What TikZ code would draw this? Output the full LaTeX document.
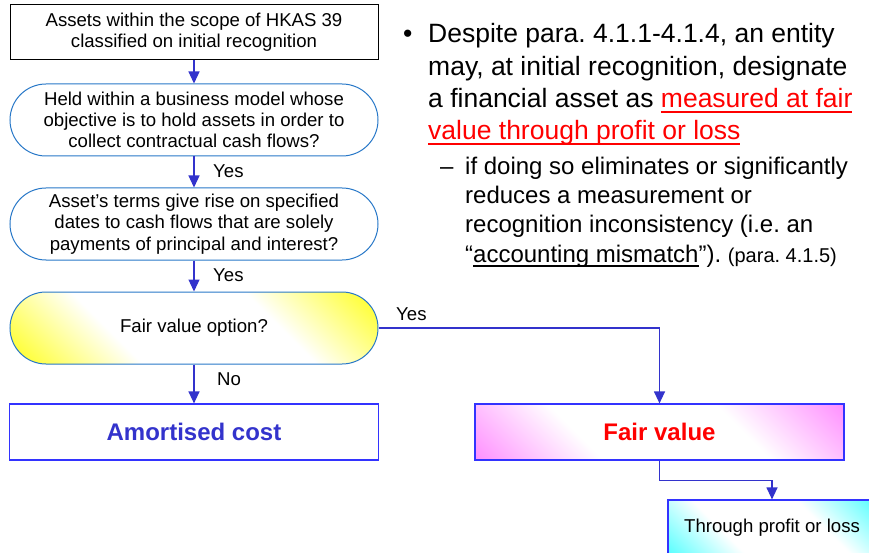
\documentclass[tikz,border=0pt]{standalone}
\usepackage{fontspec}
\setmainfont{Liberation Sans}
\frenchspacing
\newsavebox{\myulbox}
\newcommand{\myul}[1]{\sbox{\myulbox}{#1}\rlap{\rule[-5pt]{\wd\myulbox}{1.8pt}}\usebox{\myulbox}}
\usetikzlibrary{arrows.meta}
\definecolor{stadblue}{RGB}{40,120,200}
\definecolor{connblue}{RGB}{51,51,204}
\definecolor{boxblue}{RGB}{51,51,255}
\definecolor{amtext}{RGB}{51,51,204}
\definecolor{fyellow}{RGB}{255,255,20}
\definecolor{fpink}{RGB}{255,140,255}
\definecolor{fcyan}{RGB}{80,255,255}
\definecolor{fred}{RGB}{255,0,0}
\pgfdeclareverticalshading{yelshade}{100bp}{color(0bp)=(fyellow); color(14bp)=(fyellow); color(36bp)=(white); color(64bp)=(white); color(86bp)=(fyellow); color(100bp)=(fyellow)}
\pgfdeclareverticalshading{pinkshade}{100bp}{color(0bp)=(fpink); color(14bp)=(fpink); color(36bp)=(white); color(64bp)=(white); color(86bp)=(fpink); color(100bp)=(fpink)}
\pgfdeclareverticalshading{cyanshade}{100bp}{color(0bp)=(fcyan); color(14bp)=(fcyan); color(36bp)=(white); color(64bp)=(white); color(86bp)=(fcyan); color(100bp)=(fcyan)}
\tikzset{
  fc/.style={font=\fontsize{18.6}{21.3}\selectfont, align=center, inner sep=0pt},
  plainbox/.style={fc, draw=black, line width=1pt, fill=white, minimum width=368pt, minimum height=55pt},
  stadium/.style={fc, draw=stadblue, line width=1pt, rounded corners=36pt, minimum width=368pt, minimum height=72pt},
  resbox/.style={draw=boxblue, line width=1.2pt, inner sep=0pt, minimum width=369pt, minimum height=56pt},
  restext/.style={font=\fontsize{24}{28}\selectfont\bfseries},
  diagshade/.style={shade, shading=#1, shading angle=-45},
  conn/.style={draw=connblue, line width=1.3pt, -{Triangle[width=11pt,length=12pt]}},
  lbl/.style={fc, anchor=west},
  bigtxt/.style={font=\fontsize{26.5}{32}\selectfont, anchor=base west, inner sep=0pt},
  subtxt/.style={font=\fontsize{24}{29}\selectfont, anchor=base west, inner sep=0pt}
}
\begin{document}
\begin{tikzpicture}[x=1pt,y=-1pt]
\useasboundingbox (0,0) rectangle (869,553);
\clip (0,0) rectangle (869,553);
\fill[white] (0,0) rectangle (869,553);

% flowchart nodes
\node[plainbox] (top) at (194,32.5) {Assets within the scope of HKAS 39\\classified on initial recognition};
\node[stadium] (s1) at (194,120) {Held within a business model whose\\objective is to hold assets in order to\\collect contractual cash flows?};
\node[stadium] (s2) at (194,224) {Asset’s terms give rise on specified\\dates to cash flows that are solely\\payments of principal and interest?};
\node[stadium, diagshade=yelshade] (fvo) at (194,328) {Fair value option?};
\node[resbox, fill=white, restext, text=amtext] (am) at (194,432) {Amortised cost};
\node[resbox, diagshade=pinkshade, restext, text=fred] (fv) at (659.5,432) {Fair value};
\node[resbox, minimum width=208pt, diagshade=cyanshade, fc] (tpl) at (772,528) {Through profit or loss};

% connectors
\draw[conn] (top.south) -- (s1.north);
\draw[conn] (s1.south) -- (s2.north);
\draw[conn] (s2.south) -- (fvo.north);
\draw[conn] (fvo.south) -- (am.north);
\draw[conn] (fvo.east) -| (fv.north);
\draw[conn] (fv.south) -- ++(0,20) -| (tpl.north);

% connector labels
\node[lbl] (y1) at (213,171) {Yes};
\node[lbl] (y2) at (213,275) {Yes};
\node[lbl] (n1) at (217,379) {No};
\node[lbl] (y3) at (396,314) {Yes};

% bullet text
\node[bigtxt] (b0) at (403,43) {•};
\node[bigtxt] (l1) at (428,43) {Despite para. 4.1.1-4.1.4, an entity};
\node[bigtxt] (l2) at (428,75.5) {may, at initial recognition, designate};
\node[bigtxt] (l3) at (428,108) {a financial asset as \textcolor{fred}{\myul{measured at fair}}};
\node[bigtxt] (l4) at (428,140) {\textcolor{fred}{\myul{value through profit or loss}}};

\node[subtxt] (d0) at (440,175) {–};
\node[subtxt] (m1) at (465,175) {if doing so eliminates or significantly};
\node[subtxt] (m2) at (465,204) {reduces a measurement or};
\node[subtxt] (m3) at (465,233) {recognition inconsistency (i.e. an};
\node[subtxt] (m4) at (465,262) {“\myul{accounting mismatch}”). {\fontsize{20}{24}\selectfont (para. 4.1.5)}};
\end{tikzpicture}
\end{document}
